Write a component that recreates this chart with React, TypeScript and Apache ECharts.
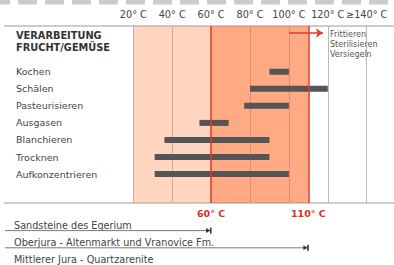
import React, { useEffect, useRef } from 'react';
import * as echarts from 'echarts';

const categories = ['Kochen', 'Schälen', 'Pasteurisieren', 'Ausgasen', 'Blanchieren', 'Trocknen', 'Aufkonzentrieren'];
const rangeStart = [90, 80, 77, 54, 36, 31, 31];
const rangeEnd = [100, 120, 100, 69, 90, 90, 100];
const tickValues = [20, 40, 60, 80, 100, 120, 140];
const tickLabels = ['20° C', '40° C', '60° C', '80° C', '100° C', '120° C', '≥140° C'];
const zoneLight = [20, 60];
const zoneDark = [60, 110];
const markTemps = [60, 110];
const markLabels = ['60° C', '110° C'];
const arrowRange = [100, 117.5];
const arrowText = ['Frittieren', 'Sterilisieren', 'Versiegeln'];
const header = ['VERARBEITUNG', 'FRUCHT/GEMÜSE'];
const geoLabels = ['Sandsteine des Egerium', 'Oberjura - Altenmarkt und Vranovice Fm.', 'Mittlerer Jura - Quartzarenite'];
const geoEnds: (number | null)[] = [60, 110, null];

const FONT = '"DejaVu Sans", Verdana, sans-serif';
const LEFT = 133.3;
const RIGHT = 27.3;
const GEO_MIN = -46;

export default function App() {
  const ref = useRef<HTMLDivElement>(null);
  useEffect(() => {
    if (!ref.current) return;
    const chart = echarts.init(ref.current, undefined, { renderer: 'svg' });
    const option: any = {
      animation: false,
      textStyle: { fontFamily: FONT },
      grid: [
        { left: LEFT, right: RIGHT, top: 26, height: 177 },
        { left: LEFT, right: RIGHT, top: 63.2, height: 119.4 },
        { left: 5, right: RIGHT, top: 213.4, height: 55 },
      ],
      xAxis: [
        {
          gridIndex: 0, type: 'value', min: 20, max: 140, interval: 20, position: 'top',
          axisLine: { show: false }, axisTick: { show: false },
          axisLabel: {
            margin: 7, fontSize: 9.7, color: '#444', fontFamily: FONT,
            showMinLabel: true, showMaxLabel: true, hideOverlap: false,
            formatter: (v: number) => { const k = tickValues.indexOf(v); return k >= 0 ? tickLabels[k] : ''; },
          },
          splitLine: { show: true, lineStyle: { color: '#b8b8b8', width: 1 } },
        },
        { gridIndex: 1, type: 'value', min: 20, max: 140, show: false },
        { gridIndex: 2, type: 'value', min: GEO_MIN, max: 140, show: false },
      ],
      yAxis: [
        { gridIndex: 0, type: 'value', min: 0, max: 1, show: false },
        {
          gridIndex: 1, type: 'category', data: categories, inverse: true,
          axisLine: { show: false }, axisTick: { show: false }, splitLine: { show: false },
          axisLabel: { align: 'left', margin: LEFT - 16, fontSize: 9.5, color: '#444', fontFamily: FONT },
        },
        { gridIndex: 2, type: 'value', min: 0, max: 3, inverse: true, show: false },
      ],
      series: [
        {
          type: 'line', xAxisIndex: 0, yAxisIndex: 0, data: [[20, 0], [140, 0]],
          symbol: 'none', lineStyle: { opacity: 0 }, silent: true,
          markArea: {
            silent: true,
            data: [
              [{ xAxis: zoneLight[0], itemStyle: { color: 'rgba(255,150,98,0.4)' } }, { xAxis: zoneLight[1] }],
              [{ xAxis: zoneDark[0], itemStyle: { color: 'rgba(255,112,52,0.6)' } }, { xAxis: zoneDark[1] }],
            ],
          },
          markLine: {
            silent: true, symbol: 'none',
            lineStyle: { color: '#e23b26', width: 1.5, type: 'solid' },
            label: {
              show: true, position: 'start', distance: 5, color: '#d9301f', fontWeight: 'bold',
              fontSize: 9.5, fontFamily: FONT,
            },
            data: markTemps.map((t, i) => ({ xAxis: t, label: { formatter: markLabels[i] } })),
          },
        },
        {
          type: 'line', xAxisIndex: 0, yAxisIndex: 0, data: [],
          markLine: {
            silent: true, symbol: ['none', 'arrow'], symbolSize: 7,
            lineStyle: { color: '#e23b26', width: 1.5, type: 'solid' },
            label: { show: false },
            data: [[{ coord: [arrowRange[0], 0.9605] }, { coord: [arrowRange[1], 0.9605] }]],
          },
        },
        {
          type: 'bar', xAxisIndex: 1, yAxisIndex: 1, stack: 'r', data: rangeStart,
          itemStyle: { color: 'rgba(0,0,0,0)' }, barWidth: 6, silent: true,
        },
        {
          type: 'bar', xAxisIndex: 1, yAxisIndex: 1, stack: 'r',
          data: rangeEnd.map((e, i) => e - rangeStart[i]),
          itemStyle: { color: '#555' }, barWidth: 6,
        },
        {
          type: 'custom', xAxisIndex: 2, yAxisIndex: 2, clip: false,
          data: geoLabels.map((_, i) => [i, geoEnds[i] == null ? '-' : geoEnds[i]]),
          renderItem: (params: any, api: any) => {
            const i = api.value(0);
            const end = api.value(1);
            const p0 = api.coord([GEO_MIN, i + 1]);
            const y = p0[1];
            const children: any[] = [
              {
                type: 'text',
                style: { text: geoLabels[i], x: p0[0] + 9, y: y - 5.5, verticalAlign: 'middle', fontSize: 9.7, fill: '#444', fontFamily: FONT },
              },
            ];
            if (isFinite(end)) {
              const xe = api.coord([end, i + 1])[0];
              children.push(
                { type: 'line', shape: { x1: p0[0], y1: y, x2: xe, y2: y }, style: { stroke: '#7a7a7a', lineWidth: 1 } },
                { type: 'polygon', shape: { points: [[xe - 5, y - 2.5], [xe - 1, y], [xe - 5, y + 2.5]] }, style: { fill: '#333' } },
                { type: 'rect', shape: { x: xe - 1.2, y: y - 3, width: 1.6, height: 6 }, style: { fill: '#333' } },
              );
            }
            return { type: 'group', children };
          },
        },
      ],
      graphic: [
        { type: 'line', shape: { x1: 0, y1: 2, x2: 394, y2: 2 }, style: { stroke: '#cccccc', lineWidth: 5, lineDash: [19, 8], lineDashOffset: 9 }, silent: true },
        { type: 'line', shape: { x1: 4, y1: 26, x2: 394, y2: 26 }, style: { stroke: '#999', lineWidth: 1 }, silent: true },
        { type: 'line', shape: { x1: 4, y1: 203, x2: 394, y2: 203 }, style: { stroke: '#999', lineWidth: 1 }, silent: true },
        ...header.map((h, i) => ({
          type: 'text', x: 16, y: 35 + i * 12,
          style: { text: h, fontSize: 9.8, fontWeight: 'bold', fill: '#333', fontFamily: FONT, verticalAlign: 'middle' },
        })),
        ...arrowText.map((t, i) => ({
          type: 'text', x: 330, y: 34 + i * 10,
          style: { text: t, fontSize: 8, fill: '#555', fontFamily: FONT, verticalAlign: 'middle' },
        })),
      ],
    };
    chart.setOption(option);
    return () => chart.dispose();
  }, []);
  return <div ref={ref} style={{ width: 394, height: 265, position: 'absolute', left: 0, top: 0 }} />;
}
